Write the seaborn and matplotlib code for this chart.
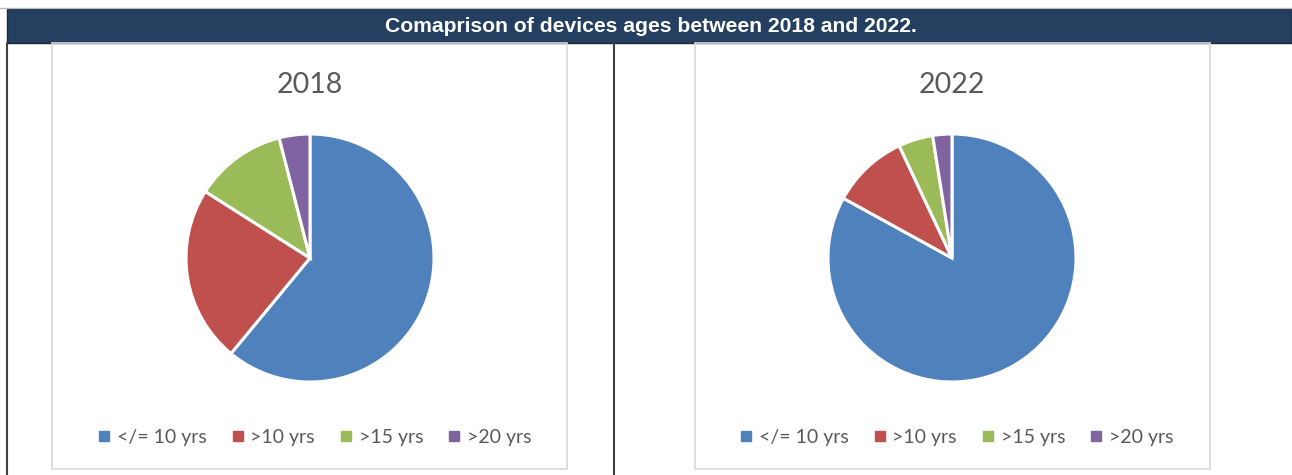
import matplotlib
matplotlib.use("Agg")
import matplotlib.pyplot as plt
import seaborn as sns
from matplotlib.patches import Rectangle
from matplotlib.lines import Line2D

# ------------------------- Data -------------------------
age_groups = ["</= 10 yrs", ">10 yrs", ">15 yrs", ">20 yrs"]
shares_2018 = [61, 23, 12, 4]
shares_2022 = [83, 10, 4.5, 2.5]
years = ["2018", "2022"]
main_title = "Comaprison of devices ages between 2018 and 2022."

sns.set_theme(style="white")
plt.rcParams['font.family'] = ['Lato', 'DejaVu Sans']
palette = sns.color_palette(["#4F81BD", "#C0504D", "#9BBB59", "#8064A2"])

W, H = 1292, 475
fig = plt.figure(figsize=(W / 100, H / 100), dpi=100)
fig.patch.set_facecolor("white")


def fx(x):
    return x / W


def fy(y):
    return 1 - y / H


# ------------------------- Frame -------------------------
fig.add_artist(Rectangle((fx(7), fy(43)), fx(W - 7), 34 / H, transform=fig.transFigure,
                         facecolor="#243F60", edgecolor="#1a2a3a", lw=1))
fig.add_artist(Line2D([fx(0), fx(W)], [fy(8), fy(8)], transform=fig.transFigure, color="#bbbbbb", lw=1))
fig.add_artist(Line2D([fx(7), fx(7)], [fy(43), fy(475)], transform=fig.transFigure, color="#404040", lw=1.5))
fig.add_artist(Line2D([fx(614), fx(614)], [fy(43), fy(475)], transform=fig.transFigure, color="#404040", lw=1.5))
fig.text(fx(651), fy(26), main_title, color="white", fontsize=15.2, fontweight="bold",
         ha="center", va="center", family=['Liberation Sans Narrow', 'Liberation Sans', 'DejaVu Sans'])

for x0 in (52, 695):
    fig.add_artist(Rectangle((fx(x0), fy(469)), fx(515), 426 / H, transform=fig.transFigure,
                             facecolor="none", edgecolor="#d9d9d9", lw=1.2))

# ------------------------- Pies -------------------------
r = 124
for cx, year, vals in zip((310, 952), years, (shares_2018, shares_2022)):
    ax = fig.add_axes([fx(cx - r), fy(258 + r), 2 * r / W, 2 * r / H])
    ax.pie(vals, colors=palette, startangle=90, counterclock=False,
           wedgeprops=dict(edgecolor="white", linewidth=2.2))
    ax.set_xlim(-1, 1)
    ax.set_ylim(-1, 1)
    ax.set_aspect("equal")
    ax.axis("off")
    fig.text(fx(cx), fy(85), year, color="#595959", fontsize=20.5, ha="center", va="center")
    handles = [Line2D([], [], marker="s", linestyle="none", markersize=6.5, color=c) for c in palette]
    fig.legend(handles, age_groups, loc="center", bbox_to_anchor=(fx(cx + 3), fy(437)),
               ncol=4, frameon=False, fontsize=14, labelcolor="#595959",
               handletextpad=0.15, columnspacing=1.1, handlelength=1.0)

fig.savefig("out.png", dpi=100)
